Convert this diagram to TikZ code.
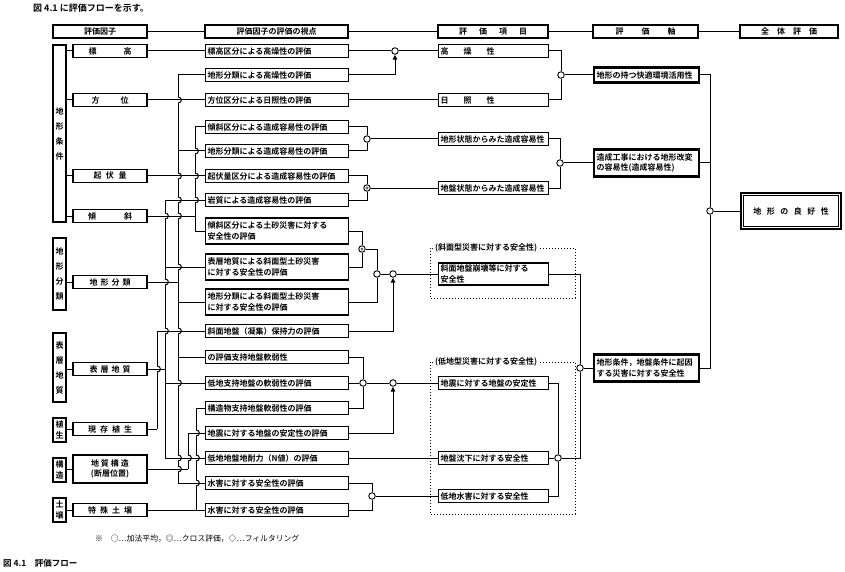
\documentclass[tikz,border=0pt]{standalone}
\usepackage{fontspec}
\setmainfont{Noto Sans CJK JP}[BoldFont={Noto Sans CJK JP Bold}]
\usetikzlibrary{arrows.meta,calc}
\begin{document}
\begin{tikzpicture}[x=1pt,y=-1pt,
  every node/.style={font=\fontsize{8}{10.5}\selectfont\bfseries, inner sep=0pt},
  wire/.style={line width=1pt},
  bx/.style={draw, line width=1.1pt, minimum height=13pt},
  fac/.style={bx, minimum width=74pt, align=center},
  ev/.style={bx, anchor=west, text width=139pt, inner xsep=2pt, inner ysep=1.5pt, align=left},
  evtwo/.style={ev, minimum height=26pt},
  it/.style={bx, anchor=west, text width=106pt, inner xsep=2pt, inner ysep=1.5pt, align=left},
  ax/.style={draw, line width=2.4pt, anchor=west, text width=100pt, inner xsep=2.5pt, inner ysep=2pt, minimum height=15pt, align=left},
  cat/.style={draw, line width=1.1pt, minimum width=13pt, align=center},
  jn/.style={circle, draw, line width=0.9pt, fill=white, minimum size=6.5pt, inner sep=0pt},
  xjn/.style={jn, path picture={\fill[black!60] (path picture bounding box.center) circle (1.6pt);}},
  arr/.style={wire, -{Triangle[length=5pt,width=4.5pt]}},
  frame/.style={line width=1pt, dotted},
  flab/.style={fill=white, inner xsep=1pt, anchor=west},
]
\useasboundingbox (0,0) rectangle (845,572);

% captions
\node[anchor=west, font=\fontsize{9}{10}\selectfont\bfseries] (cap1) at (33,8) {図 4.1 に評価フローを示す。};
\node[anchor=west, font=\fontsize{7.8}{10}\selectfont] (leg) at (95,539) {※　○…加法平均，◎…クロス評価，◇…フィルタリング};
\node[anchor=west, font=\fontsize{8.5}{10}\selectfont\bfseries] (cap2) at (3,563) {図 4.1　評価フロー};

% headers
\node[bx, minimum width=94pt] (H1) at (100,31.5) {評価因子};
\node[bx, minimum width=143pt] (H2) at (276.5,31.5) {評価因子の評価の視点};
\node[bx, minimum width=110pt] (H3) at (493,31.5) {評\hspace{12pt}価\hspace{12pt}項\hspace{12pt}目};
\node[bx, minimum width=105pt] (H4) at (645.5,31.5) {評\hspace{18pt}価\hspace{18pt}軸};
\node[bx, minimum width=98pt] (H5) at (789,31.5) {全\hspace{8pt}体\hspace{8pt}評\hspace{8pt}価};
\draw[wire] (H1.east) -- (H2.west);
\draw[wire] (H2.east) -- (H3.west);
\draw[wire] (H3.east) -- (H4.west);
\draw[wire] (H4.east) -- (H5.west);

% category boxes
\node[cat, minimum height=177pt, font=\fontsize{8}{15}\selectfont\bfseries] (L1) at (59.5,133.5) {地\\形\\条\\件};
\node[cat, minimum height=72pt, font=\fontsize{8}{15}\selectfont\bfseries] (L2) at (59.5,274) {地\\形\\分\\類};
\node[cat, minimum height=69pt, font=\fontsize{8}{15}\selectfont\bfseries] (L3) at (59.5,367.5) {表\\層\\地\\質};
\node[cat, minimum height=24pt, font=\fontsize{8}{10.5}\selectfont\bfseries] (L4) at (59.5,430) {植\\生};
\node[cat, minimum height=24pt, font=\fontsize{8}{10.5}\selectfont\bfseries] (L5) at (59.5,470) {構\\造};
\node[cat, minimum height=24pt, font=\fontsize{8}{10.5}\selectfont\bfseries] (L6) at (59.5,510) {土\\壌};

% factor nodes
\node[fac] (fA) at (110,51) {標\hspace{27pt}高};
\node[fac] (fB) at (110,100) {方\hspace{21pt}位};
\node[fac] (fC) at (110,176) {起\hspace{4.5pt}伏\hspace{4.5pt}量};
\node[fac] (fD) at (110,216) {傾\hspace{28pt}斜};
\node[fac] (fE) at (110,282) {地\hspace{3pt}形\hspace{3pt}分\hspace{3pt}類};
\node[fac] (fF) at (110,369) {表\hspace{3pt}層\hspace{3pt}地\hspace{3pt}質};
\node[fac] (fG) at (110,429) {現\hspace{4pt}存\hspace{4pt}植\hspace{4pt}生};
\node[fac, minimum height=28pt] (fH) at (110,469) {地\hspace{2pt}質\hspace{2pt}構\hspace{2pt}造\\(断層位置)};
\node[fac] (fI) at (110,510) {特\hspace{4pt}殊\hspace{4pt}土\hspace{4pt}壌};

\foreach \fa/\la in {fA/L1, fB/L1, fC/L1, fD/L1, fE/L2, fF/L3, fG/L4, fH/L5, fI/L6}
  \draw[wire] (\fa.west -| \la.east) -- (\fa.west);

% evaluation viewpoints
\node[ev] (r1) at (205,51) {標高区分による高燥性の評価};
\node[ev] (r2) at (205,75) {地形分類による高燥性の評価};
\node[ev] (r3) at (205,100) {方位区分による日照性の評価};
\node[ev] (r4) at (205,127) {傾斜区分による造成容易性の評価};
\node[ev] (r5) at (205,151) {地形分類による造成容易性の評価};
\node[ev] (r6) at (205,176) {起伏量区分による造成容易性の評価};
\node[ev] (r7) at (205,200) {岩質による造成容易性の評価};
\node[evtwo] (r8) at (205,231) {傾斜区分による土砂災害に対する\\安全性の評価};
\node[evtwo] (r9) at (205,267) {表層地質による斜面型土砂災害\\に対する安全性の評価};
\node[evtwo] (r10) at (205,302) {地形分類による斜面型土砂災害\\に対する安全性の評価};
\node[ev] (r11) at (205,331) {斜面地盤（凝集）保持力の評価};
\node[ev] (r12) at (205,357) {の評価支持地盤軟弱性};
\node[ev] (r13) at (205,383) {低地支持地盤の軟弱性の評価};
\node[ev] (r14) at (205,408) {構造物支持地盤軟弱性の評価};
\node[ev] (r15) at (205,433) {地震に対する地盤の安定性の評価};
\node[ev] (r16) at (205,458) {低地地盤地耐力（N値）の評価};
\node[ev] (r17) at (205,483) {水害に対する安全性の評価};
\node[ev] (r18) at (205,510) {水害に対する安全性の評価};

% evaluation items
\node[it] (h1) at (438,51) {高\hspace{15pt}燥\hspace{15pt}性};
\node[it] (h2) at (438,100) {日\hspace{15pt}照\hspace{15pt}性};
\node[it] (h3) at (438,139) {地形状態からみた造成容易性};
\node[it] (h4) at (438,188) {地盤状態からみた造成容易性};
\node[it, minimum height=22pt] (h5) at (438,274) {斜面地盤崩壊等に対する\\安全性};
\node[it] (h6) at (438,383) {地震に対する地盤の安定性};
\node[it] (h7) at (438,458) {地盤沈下に対する安全性};
\node[it] (h8) at (438,496) {低地水害に対する安全性};

% dotted groups
\draw[frame] (430,248) rectangle (575,298);
\node[flab] (g1) at (434,248) {(斜面型災害に対する安全性)};
\draw[frame] (430,362) rectangle (575,514);
\node[flab] (g2) at (434,362) {(低地型災害に対する安全性)};

% evaluation axes
\node[ax] (k1) at (593,75) {地形の持つ快適環境活用性};
\node[ax, minimum height=27pt] (k2) at (593,163) {造成工事における地形改変\\の容易性(造成容易性)};
\node[ax, minimum height=27pt] (k3) at (593,368) {地形条件，地盤条件に起因\\する災害に対する安全性};

% overall
\node[draw, line width=2.6pt, minimum width=100pt, minimum height=36pt] (top) at (791,211) {地\hspace{5.5pt}形\hspace{5.5pt}の\hspace{5.5pt}良\hspace{5.5pt}好\hspace{5.5pt}性};
\draw[line width=0.8pt] ($(top.north west)+(3.5,3.5)$) rectangle ($(top.south east)+(-3.5,-3.5)$);

% junctions
\node[jn] (c1) at (395,51) {};
\node[jn] (c2) at (561,75) {};
\node[jn] (c3) at (367,139) {};
\node[xjn] (c4) at (367,188) {};
\node[jn] (c5) at (560,163) {};
\node[xjn] (c6x) at (362,249) {};
\node[jn] (c6) at (377,274) {};
\node[jn] (d1) at (393,274) {};
\node[jn] (c7) at (363,383) {};
\node[jn] (d2) at (393,383) {};
\node[jn] (c8) at (372,496) {};
\node[jn] (c9) at (558,458) {};
\node[jn] (c10) at (580,368) {};
\node[jn] (c11) at (710,211) {};

% bus lines
\coordinate (bA) at (178,0);
\coordinate (bB) at (195,0);
\coordinate (bC) at (165,0);
\coordinate (bD) at (157,0);
\coordinate (bE) at (196,0);
\coordinate (bF) at (188,0);
\draw[wire] (r2.west -| bA) -- (r17.west -| bA);
\draw[wire] (r4.west -| bB) -- (r8.west -| bB);
\draw[wire] (r7.west -| bC) -- (r16.west -| bC);
\draw[wire] (r11.west -| bD) -- (fG.east -| bD);
\draw[wire] (r14.west -| bE) -- (r18.west -| bE);
\draw[wire] (r15.west -| bF) -- (fH.east -| bF);
\foreach \x/\y in {178/100,178/176,178/200,178/216,178/267,178/331,178/383,178/458,178/469,
                   195/151,195/176,195/200,165/216,165/282,165/331,157/369,
                   196/433,196/458,196/483,188/458}{
  \fill[white] (\x-1,\y-3) rectangle (\x+1,\y+3);
  \draw[wire] (\x,\y-3) .. controls (\x+4.5,\y-3) and (\x+4.5,\y+3) .. (\x,\y+3);
}

% factor to bus / row
\draw[wire] (fA.east) -- (r1.west);
\draw[wire] (fB.east) -- (r3.west);
\draw[wire] (fC.east) -- (r6.west);
\draw[wire] (fD.east) -- (fD.east -| bB);
\draw[wire] (fE.east) -- (fE.east -| bA);
\draw[wire] (fF.east) -- (fF.east -| bC);
\draw[wire] (fG.east) -- (fG.east -| bD);
\draw[wire] (fH.east) -- (fH.east -| bF);
\draw[wire] (fI.east) -- (r18.west);
\foreach \ra/\ba in {r2/bA, r4/bB, r5/bA, r7/bC, r8/bB, r9/bC, r10/bA, r11/bD, r12/bA, r13/bC, r14/bE, r15/bF, r16/bC, r17/bA}
  \draw[wire] (\ra.west -| \ba) -- (\ra.west);

% right side connections
\draw[wire] (r1.east) -- (c1) -- (h1.west);
\draw[arr] (r2.east) -| (c1.south);
\draw[wire] (r3.east) -- (h2.west);
\draw[wire] (h1.east) -| (c2.north);
\draw[wire] (h2.east) -| (c2.south);
\draw[wire] (c2) -- (k1.west);
\draw[wire] (r4.east) -| (c3.north);
\draw[wire] (r5.east) -| (c3.south);
\draw[wire] (c3) -- (h3.west);
\draw[wire] (r6.east) -| (c4.north);
\draw[wire] (r7.east) -| (c4.south);
\draw[wire] (c4) -- (h4.west);
\draw[wire] (h3.east) -| (c5.north);
\draw[wire] (h4.east) -| (c5.south);
\draw[wire] (c5) -- (k2.west);
\draw[wire] (r8.east) -| (c6x.north);
\draw[wire] (r9.east) -| (c6x.south);
\draw[wire] (c6x.east) -| (c6.north);
\draw[wire] (r10.east) -| (c6.south);
\draw[wire] (c6) -- (d1) -- (h5.west);
\draw[arr] (r11.east) -| (d1.south);
\draw[wire] (r12.east) -| (c7.north);
\draw[wire] (r14.east) -| (c7.south);
\draw[wire] (r13.east) -- (c7);
\draw[wire] (c7) -- (d2) -- (h6.west);
\draw[arr] (r15.east) -| (d2.south);
\draw[wire] (r16.east) -- (h7.west);
\draw[wire] (r17.east) -| (c8.north);
\draw[wire] (r18.east) -| (c8.south);
\draw[wire] (c8) -- (h8.west);
\draw[wire] (h6.east) -| (c9.north);
\draw[wire] (h8.east) -| (c9.south);
\draw[wire] (h7.east) -- (c9);
\draw[wire] (h5.east) -| (c10.north);
\draw[wire] (c9.east) -| (c10.south);
\draw[wire] (c10) -- (k3.west);
\draw[wire] (k1.east) -| (c11.north);
\draw[wire] (k3.east) -| (c11.south);
\draw[wire] (k2.east) -- (k2.east -| c11);
\draw[wire] (c11) -- (top.west);
\end{tikzpicture}
\end{document}
